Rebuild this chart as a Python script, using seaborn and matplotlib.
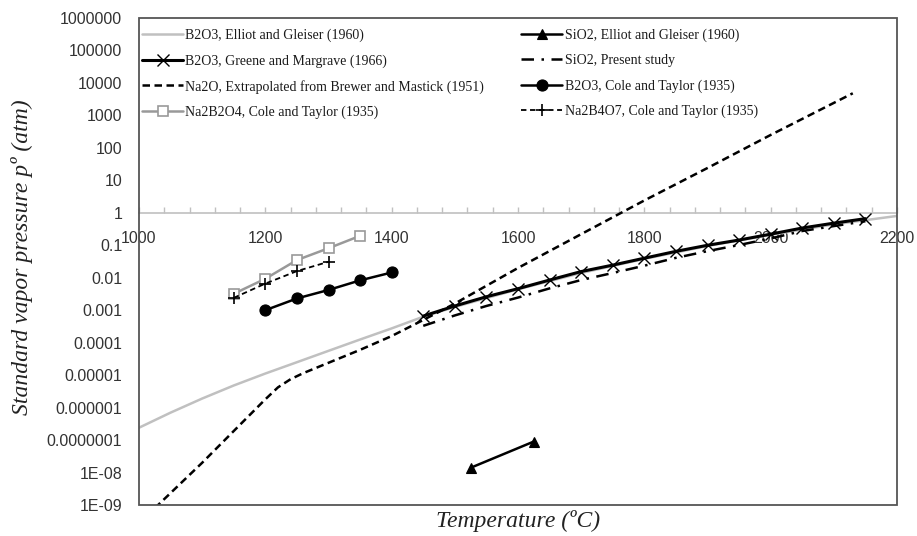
import matplotlib
matplotlib.use("Agg")
import matplotlib.pyplot as plt
import seaborn as sns
from matplotlib.patches import Rectangle
from matplotlib.ticker import MultipleLocator

# ---------------- data ----------------
t_b2o3_elliot = [1000, 1050, 1100, 1150, 1200, 1250, 1300, 1350, 1400, 1450, 1500, 1600, 1700, 1800,
                 1900, 2000, 2100, 2200]
p_b2o3_elliot = [2.4e-7, 7.0e-7, 1.9e-6, 4.8e-6, 1.12e-5, 2.5e-5, 5.6e-5, 1.25e-4, 2.75e-4, 6.3e-4,
                 1.26e-3, 4.4e-3, 1.4e-2, 3.8e-2, 9.5e-2, 0.21, 0.44, 0.80]

t_b2o3_greene = [1450, 1500, 1550, 1600, 1650, 1700, 1750, 1800, 1850, 1900, 1950, 2000, 2050, 2100, 2150]
p_b2o3_greene = [6.6e-4, 1.35e-3, 2.6e-3, 4.6e-3, 8.5e-3, 1.55e-2, 2.45e-2, 4.0e-2, 6.5e-2, 0.10, 0.145, 0.22, 0.34, 0.48, 0.66]

t_na2o = [1025, 1100, 1150, 1200, 1220, 1240, 1260, 1300, 1350, 1400, 1450, 1500, 1600, 1700, 1800, 1900, 2000, 2130]
p_na2o = [8.0e-10, 2.0e-8, 1.9e-7, 1.8e-6, 4.2e-6, 7.5e-6, 1.15e-5, 2.4e-5, 6.0e-5, 1.6e-4, 5.0e-4, 1.6e-3,
          2.0e-2, 0.22, 2.4, 24, 250, 4800]

t_na2b2o4 = [1150, 1200, 1250, 1300, 1350]
p_na2b2o4 = [3.2e-3, 9.3e-3, 3.5e-2, 8.1e-2, 0.195]

t_sio2_elliot = [1525, 1625]
p_sio2_elliot = [1.4e-8, 9.0e-8]

t_sio2_present = [1450, 1500, 1550, 1600, 1650, 1700, 1750, 1800, 1850, 1900, 1950, 2000, 2050, 2100, 2150]
p_sio2_present = [3.3e-4, 6.9e-4, 1.35e-3, 2.45e-3, 4.7e-3, 8.5e-3, 1.4e-2, 2.35e-2, 4.1e-2, 6.6e-2, 0.102, 0.162, 0.275, 0.39, 0.55]

t_b2o3_cole = [1200, 1250, 1300, 1350, 1400]
p_b2o3_cole = [1.0e-3, 2.3e-3, 4.2e-3, 8.3e-3, 1.45e-2]

t_na2b4o7 = [1150, 1200, 1250, 1300]
p_na2b4o7 = [2.4e-3, 6.6e-3, 1.6e-2, 3.1e-2]

x_ticks = [1000, 1200, 1400, 1600, 1800, 2000, 2200]
x_tick_labels = ["1000", "1200", "1400", "1600", "1800", "2000", "2200"]
y_ticks = [1e6, 1e5, 1e4, 1e3, 1e2, 1e1, 1, 1e-1, 1e-2, 1e-3, 1e-4, 1e-5, 1e-6, 1e-7, 1e-8, 1e-9]
y_tick_labels = ["1000000", "100000", "10000", "1000", "100", "10", "1", "0.1", "0.01",
                 "0.001", "0.0001", "0.00001", "0.000001", "0.0000001", "1E-08", "1E-09"]

labels = ["B2O3, Elliot and Gleiser (1960)",
          "B2O3, Greene and Margrave (1966)",
          "Na2O, Extrapolated from Brewer and Mastick (1951)",
          "Na2B2O4, Cole and Taylor (1935)",
          "SiO2, Elliot and Gleiser (1960)",
          "SiO2, Present study",
          "B2O3, Cole and Taylor (1935)",
          "Na2B4O7, Cole and Taylor (1935)"]

# ---------------- figure ----------------
sns.set_theme(style="white")
plt.rcParams['font.family'] = ['Liberation Sans', 'DejaVu Sans']

W, H = 917, 536
fig = plt.figure(figsize=(W / 100, H / 100), dpi=100)
L, R, T, B = 139, 897, 18, 505
ax = fig.add_axes([L / W, 1 - B / H, (R - L) / W, (B - T) / H])

common = dict(ax=ax, estimator=None, sort=False)

sns.lineplot(x=t_b2o3_elliot, y=p_b2o3_elliot, color="#c0c0c0", lw=1.8, label=labels[0], **common)
sns.lineplot(x=t_b2o3_greene, y=p_b2o3_greene, color="black", lw=2.2, marker="x", markersize=8.5,
             markeredgecolor="black", markeredgewidth=1.0, label=labels[1], **common)
sns.lineplot(x=t_na2o, y=p_na2o, color="black", lw=1.8, linestyle=(0, (3, 1.8)), label=labels[2], **common)
sns.lineplot(x=t_na2b2o4, y=p_na2b2o4, color="#999999", lw=1.8, marker="s", markersize=6.5,
             markerfacecolor="white", markeredgecolor="#999999", markeredgewidth=1.2,
             label=labels[3], **common)
sns.lineplot(x=t_sio2_elliot, y=p_sio2_elliot, color="black", lw=1.8, marker="^", markersize=7.5,
             markeredgecolor="black", markeredgewidth=0.8, label=labels[4], **common)
sns.lineplot(x=t_sio2_present, y=p_sio2_present, color="black", lw=1.8, linestyle=(0, (5, 3, 1, 3)),
             label=labels[5], **common)
sns.lineplot(x=t_b2o3_cole, y=p_b2o3_cole, color="black", lw=1.8, marker="o", markersize=8,
             markeredgecolor="black", markeredgewidth=0.8, label=labels[6], **common)
sns.lineplot(x=t_na2b4o7, y=p_na2b4o7, color="black", lw=1.3, linestyle=(0, (3, 2)), marker="+",
             markersize=8, markeredgecolor="black", markeredgewidth=1.2, label=labels[7], **common)

ax.set_yscale("log")
ax.set_xlim(1000, 2200)
ax.set_ylim(1e-9, 1e6)
ax.set_yticks(y_ticks)
ax.set_yticklabels(y_tick_labels)
ax.yaxis.set_minor_locator(plt.NullLocator())
ax.set_xticks(x_ticks)
ax.set_xticklabels(x_tick_labels)
ax.xaxis.set_minor_locator(MultipleLocator(40))

# x axis crossing at y = 1
for s in ["top", "right", "left"]:
    ax.spines[s].set_visible(False)
ax.spines["bottom"].set_position(("data", 1))
ax.spines["bottom"].set_color("#c0c0c0")
ax.spines["bottom"].set_linewidth(1.2)
ax.spines["bottom"].set_zorder(0.5)

ax.tick_params(axis="x", which="both", direction="in", length=4, width=1, color="#c0c0c0",
               pad=13, labelsize=11.5, labelcolor="#333333", bottom=True)
ax.tick_params(axis="y", which="both", length=0, pad=12, labelsize=11.5, labelcolor="#333333")

ax.add_patch(Rectangle((0, 0), 1, 1, transform=ax.transAxes, fill=False,
                       edgecolor="#555555", lw=1.3, clip_on=False, zorder=5))
ax.grid(False)
ax.set_xlabel("")
ax.set_ylabel("")

leg = ax.legend(ncol=2, loc="upper left", bbox_to_anchor=(0.004, 0.978), frameon=False,
                borderpad=0, borderaxespad=0, handlelength=2.95, handletextpad=0.15,
                columnspacing=2.7, labelspacing=0.86,
                prop={"family": "Liberation Serif", "size": 10})
for t in leg.get_texts():
    t.set_color("#1a1a1a")

fig.text(518 / W, 1 - 521 / H, "Temperature (ºC)", ha="center", va="center",
         family="Liberation Serif", style="italic", fontsize=17, color="#222222")
fig.text(22 / W, 1 - 257 / H, "Standard vapor pressure pº (atm)", ha="center", va="center",
         rotation=90, family="Liberation Serif", style="italic", fontsize=17, color="#222222")

fig.savefig("out.png", dpi=100)
